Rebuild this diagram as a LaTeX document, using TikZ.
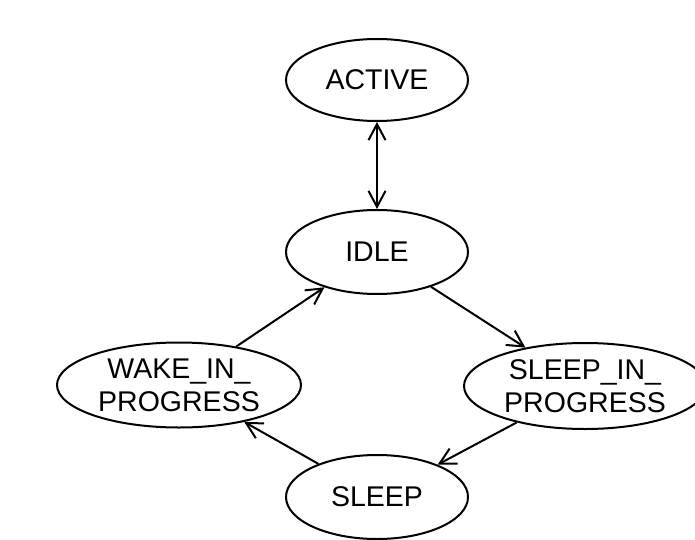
\documentclass[tikz,border=0pt]{standalone}
\usepackage{fontspec}
\setmainfont{Liberation Sans}
\usetikzlibrary{shapes.geometric,arrows.meta}
\begin{document}
\begin{tikzpicture}[x=1pt,y=1pt,
  state/.style={draw,ellipse,line width=2pt,inner sep=0pt,align=center,
    font=\fontsize{28.5}{33}\selectfont},
  tip/.style={Straight Barb[length=16pt,width=17pt,line width=2pt]},
  conn/.style={line width=2pt,-{Straight Barb[length=16pt,width=17pt,line width=2pt]}},
  biconn/.style={line width=2pt,{Straight Barb[length=16pt,width=17pt,line width=2pt]}-{Straight Barb[length=16pt,width=17pt,line width=2pt]}}]
\useasboundingbox (0,0) rectangle (695,539);
\clip (0,0) rectangle (695,539);
\node[state,minimum width=182pt,minimum height=82pt] (active) at (377,459) {ACTIVE};
\node[state,minimum width=182pt,minimum height=84pt] (idle) at (377,287) {IDLE};
\node[state,minimum width=244pt,minimum height=85pt] (wake) at (179,154) {WAKE\_IN\_\\PROGRESS};
\node[state,minimum width=242pt,minimum height=86pt] (sip) at (585,153) {SLEEP\_IN\_\\PROGRESS};
\node[state,minimum width=182pt,minimum height=84pt] (sleep) at (377,42) {SLEEP};
\draw[biconn] (active) -- (idle);
\draw[conn] (idle) -- (sip);
\draw[conn] (sip) -- (sleep);
\draw[conn] (sleep) -- (wake);
\draw[conn] (wake) -- (idle);
\end{tikzpicture}
\end{document}
